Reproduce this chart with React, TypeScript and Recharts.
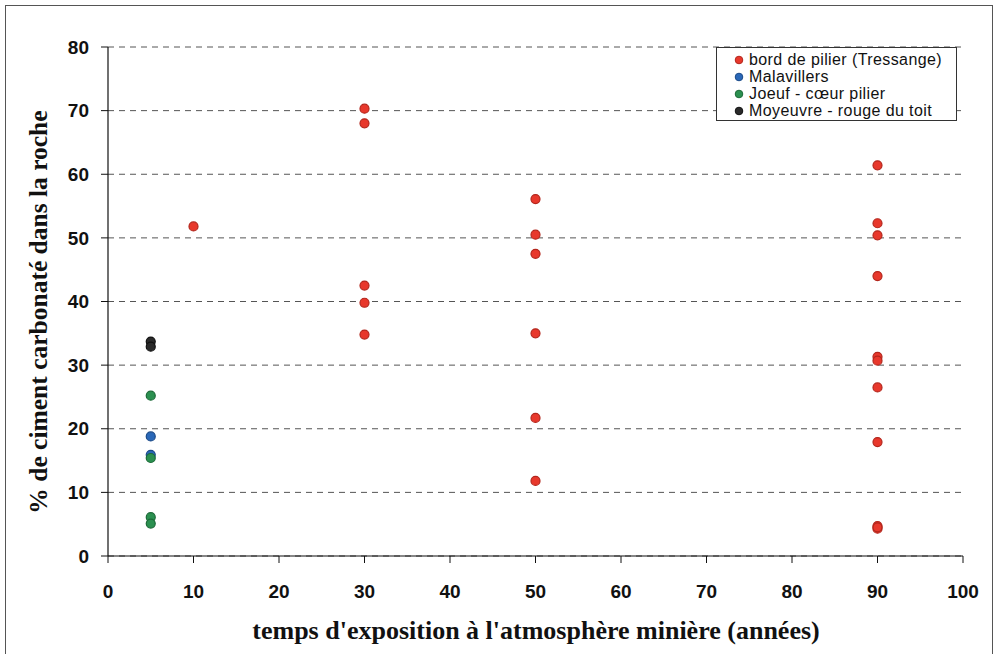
import {
  ScatterChart,
  Scatter,
  XAxis,
  YAxis,
  CartesianGrid,
  Label,
} from "recharts"

// exposure time (years) / % carbonate cement, one pair per sample
const tressangeX = [10, 30, 30, 30, 30, 30, 50, 50, 50, 50, 50, 50, 90, 90, 90, 90, 90, 90, 90, 90, 90, 90, 90]
const tressangeY = [51.8, 70.3, 68.0, 42.5, 39.8, 34.8, 56.1, 50.5, 47.5, 35.0, 21.7, 11.8, 61.4, 52.3, 50.4, 44.0, 31.3, 30.7, 26.5, 17.9, 4.7, 4.3, 4.5]

const malavillersX = [5, 5]
const malavillersY = [18.8, 15.9]

const joeufX = [5, 5, 5, 5]
const joeufY = [25.2, 15.4, 6.1, 5.1]

const moyeuvreX = [5, 5]
const moyeuvreY = [33.7, 32.9]

const xTicks = [0, 10, 20, 30, 40, 50, 60, 70, 80, 90, 100]
const yTicks = [0, 10, 20, 30, 40, 50, 60, 70, 80]

const seriesNames = [
  "bord de pilier (Tressange)",
  "Malavillers",
  "Joeuf - cœur pilier",
  "Moyeuvre - rouge du toit",
]

const toPoints = (xs: number[], ys: number[]) => xs.map((x, i) => ({ x, y: ys[i] }))

const colors = [
  { fill: "#e8382c", stroke: "#b3261c" },
  { fill: "#2a68b8", stroke: "#1b4a88" },
  { fill: "#2b9050", stroke: "#1c6a38" },
  { fill: "#2a2a2a", stroke: "#111111" },
]

const tickStyle = { fontFamily: "Liberation Sans, Arial, sans-serif", fontWeight: 700, fontSize: 19, fill: "#111" }
const serif = "Liberation Serif, Times New Roman, serif"

// eslint-disable-next-line @typescript-eslint/no-explicit-any
function Dot(props: any) {
  const { cx, cy, fill, stroke } = props
  if (cx == null || cy == null) return null
  return <circle cx={cx} cy={cy} r={4.5} fill={fill} stroke={stroke} strokeWidth={1.2} />
}

function LegendBox() {
  return (
    <div
      style={{
        position: "absolute",
        left: 716,
        top: 47,
        width: 241,
        height: 74,
        boxSizing: "border-box",
        border: "1px solid #333",
        background: "#fff",
        padding: "3px 0 0 16px",
        fontFamily: "Liberation Sans, Arial, sans-serif",
        fontSize: 16,
        letterSpacing: 0.4,
        lineHeight: "17px",
        color: "#111",
        whiteSpace: "nowrap",
      }}
    >
      {seriesNames.map((n, i) => (
        <div key={n} style={{ display: "flex", alignItems: "center", height: 17 }}>
          <svg width={12} height={12} style={{ marginRight: 4 }}>
            <circle cx={6} cy={6} r={3.8} fill={colors[i].fill} stroke={colors[i].stroke} strokeWidth={1} />
          </svg>
          <span>{n}</span>
        </div>
      ))}
    </div>
  )
}

export default function App() {
  const series = [
    toPoints(tressangeX, tressangeY),
    toPoints(malavillersX, malavillersY),
    toPoints(joeufX, joeufY),
    toPoints(moyeuvreX, moyeuvreY),
  ]

  return (
    <div style={{ position: "absolute", left: 0, top: 0, width: 998, height: 654, background: "#fff" }}>
      <div
        style={{
          position: "absolute",
          left: 5,
          top: 5,
          width: 986,
          height: 660,
          border: "1.5px solid #555",
        }}
      />
      <ScatterChart width={998} height={654} margin={{ top: 47, right: 35, bottom: 38, left: 48 }}>
        <CartesianGrid
          horizontal
          vertical={false}
          stroke="#555"
          strokeDasharray="6 5"
          horizontalValues={yTicks}
        />
        <XAxis
          type="number"
          dataKey="x"
          domain={[0, 100]}
          ticks={xTicks}
          height={60}
          tick={tickStyle}
          tickLine={{ stroke: "#111" }}
          axisLine={{ stroke: "#111", strokeWidth: 1.2 }}
          tickSize={7}
          tickMargin={22}
        >
          <Label
            content={() => (
              <text
                x={536}
                y={639}
                textAnchor="middle"
                style={{ fontFamily: serif, fontWeight: 700, fontSize: 26, fill: "#111" }}
              >
                temps d'exposition à l'atmosphère minière (années)
              </text>
            )}
          />
        </XAxis>
        <YAxis
          type="number"
          dataKey="y"
          domain={[0, 80]}
          ticks={yTicks}
          width={60}
          tick={tickStyle}
          tickLine={{ stroke: "#111" }}
          axisLine={{ stroke: "#111", strokeWidth: 1.2 }}
          tickSize={7}
          tickMargin={12}
        >
          <Label
            content={() => (
              <text
                x={38}
                y={312}
                textAnchor="middle"
                dominantBaseline="central"
                transform="rotate(-90 38 312)"
                style={{ fontFamily: serif, fontWeight: 700, fontSize: 25.5, fill: "#111" }}
              >
                % de ciment carbonaté dans la roche
              </text>
            )}
          />
        </YAxis>
        {series.map((data, i) => (
          <Scatter
            key={seriesNames[i]}
            name={seriesNames[i]}
            data={data}
            fill={colors[i].fill}
            stroke={colors[i].stroke}
            shape={<Dot />}
            isAnimationActive={false}
          />
        ))}
      </ScatterChart>
      <LegendBox />
    </div>
  )
}
